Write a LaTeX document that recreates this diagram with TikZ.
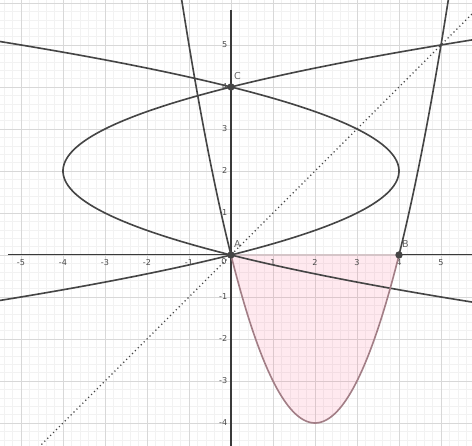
\documentclass[tikz,border=0pt]{standalone}
\usepackage{fontspec}
\setmainfont{DejaVu Sans}
\usetikzlibrary{positioning}

\definecolor{curvegray}{HTML}{454545}
\definecolor{axisgray}{HTML}{3A3A3A}
\definecolor{regionline}{HTML}{A27E86}
\definecolor{regionfill}{HTML}{FF4D7A}
\definecolor{gridmajor}{HTML}{D8D8D8}
\definecolor{gridminor}{HTML}{F2F2F2}

\begin{document}
\begin{tikzpicture}[
    curve/.style={curvegray, line width=1.1pt},
    ticklabel/.style={font=\fontsize{5.5}{6}\selectfont, text=black!70, inner sep=0pt},
    ptlabel/.style={font=\fontsize{6.5}{7}\selectfont, text=black!60, inner sep=0pt},
    pt/.style={circle, fill=curvegray, inner sep=0pt, minimum size=5pt}]
    \useasboundingbox (-5.5,-4.548) rectangle (5.738,6.071);
    \clip (-5.5,-4.548) rectangle (5.738,6.071);

    % Grid
    \draw[gridminor, line width=0.35pt, step=0.2] (-5.6,-4.6) grid (5.8,6.2);
    \draw[gridmajor, line width=0.6pt, step=1] (-5.6,-4.6) grid (5.8,6.2);

    % Region between y = x^2-4x and the x-axis
    \fill[regionfill, fill opacity=0.12] plot[domain=0:4, samples=60, smooth] (\x, {\x*\x-4*\x}) -- cycle;

    % Axes
    \draw[axisgray, line width=0.7pt] (-5.31,0) -- (5.8,0);
    \draw[axisgray, line width=0.7pt] (0,5.83) -- (0,-4.6);
    \draw[regionline!45, line width=0.8pt] (0,0) -- (4,0);

    % Tick labels
    \foreach \i in {-5,...,-1,1,2,...,5}
        \node[ticklabel, anchor=north] (xl\i) at (\i,-0.1) {\i};
    \foreach \i in {-4,...,-1,1,2,...,5}
        \node[ticklabel, anchor=east] (yl\i) at (-0.08,\i) {\i};
    \node[ticklabel] (zero) at (-0.17,-0.15) {0};

    % Line y = x
    \draw[curvegray, dotted, line width=0.8pt] (-5,-5) -- (6,6);

    % Sideways parabolas x = y^2-4y and x = 4y-y^2
    \draw[curve] plot[domain=-1.4:6.3, samples=120, smooth] ({\x*\x-4*\x}, \x);
    \draw[curve] plot[domain=-1.4:6.3, samples=120, smooth] ({4*\x-\x*\x}, \x);

    % Parabola y = x^2-4x
    \draw[curve] plot[domain=-1.25:0, samples=30, smooth] (\x, {\x*\x-4*\x});
    \draw[curve] plot[domain=4:5.25, samples=30, smooth] (\x, {\x*\x-4*\x});
    \draw[regionline, line width=1.1pt] plot[domain=0:4, samples=80, smooth] (\x, {\x*\x-4*\x});

    % Points
    \node[pt] (A) at (0,0) {};
    \node[pt] (B) at (4,0) {};
    \node[pt] (C) at (0,4) {};
    \node[ptlabel, above right=3pt and 0pt of A] (Alab) {A};
    \node[ptlabel, above right=3pt and 0pt of B] (Blab) {B};
    \node[ptlabel, above right=3pt and 0pt of C] (Clab) {C};
\end{tikzpicture}
\end{document}
